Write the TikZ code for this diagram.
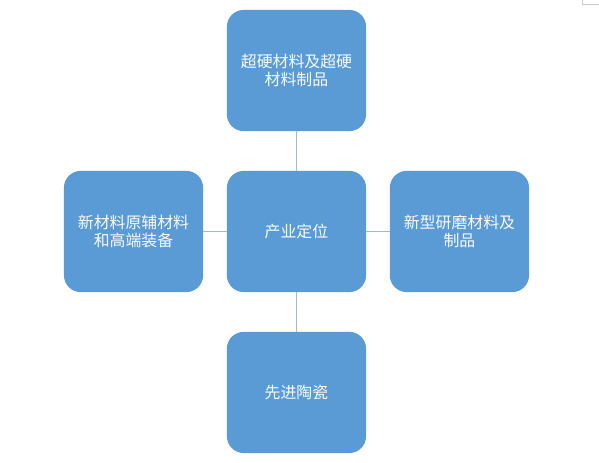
\documentclass[tikz,border=0pt]{standalone}
\usepackage{fontspec}
\newfontfamily\cjk{Noto Sans CJK SC}
\usepackage{tikz}
\usetikzlibrary{
  positioning
}
\usepackage{xcolor}
\definecolor{cblue}{RGB}{91,155,213}
\definecolor{lline}{RGB}{165,185,205}
\definecolor{cgray}{RGB}{200,200,200}
\tikzset{
  field/.style={
    rectangle, rounded corners=0.42cm,
    fill=cblue, draw=none,
    minimum width=3.48cm, minimum height=3.03cm,
    text width=3.1cm, inner sep=0pt,
    font=\cjk\fontsize{11.3}{13.2}\selectfont, text=white!96!cblue,
    align=center
  },
  link/.style={line width=0.8pt, color=lline}
}

\begin{document}
\begin{tikzpicture}[node distance=0.98cm and 0.58cm]

    %% ---- canvas ----------------------------------------------------
    \useasboundingbox[fill=white] (-7.4125,-5.7875) rectangle (7.5625,5.7875);

    %% ---- centre and four fields -----------------------------------
    \node[field] (pos) {产业定位};
    \node[field, above=of pos] (chd) {超硬材料及超硬\\材料制品};
    \node[field, left=of pos]  (raw) {新材料原辅材料\\和高端装备};
    \node[field, right=of pos] (abr) {新型研磨材料及\\制品};
    \node[field, below=of pos] (cer) {先进陶瓷};

    \foreach \n in {chd,raw,abr,cer}{
      \draw[link] (pos)--(\n);
    }

    %% ---- corner mark ----------------------------------------------
    \coordinate (mk) at (7.15,5.7875);
    \draw[cgray, line width=0.5pt] (mk)--++(0,-0.12)--++(0.42,0);

  \end{tikzpicture}
\end{document}
